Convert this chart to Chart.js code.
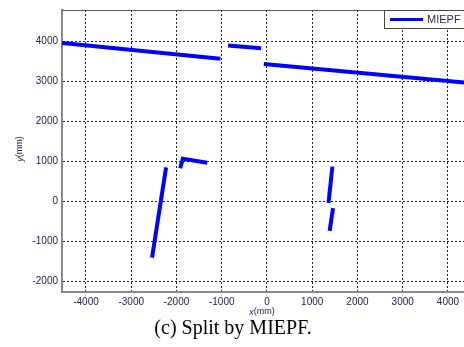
<!DOCTYPE html>
<html>
<head>
<meta charset="utf-8">
<script src="https://cdn.jsdelivr.net/npm/chart.js@4"></script>
<style>
  html, body { margin: 0; padding: 0; background: #fff; }
  #wrap { position: relative; width: 464px; height: 347px; overflow: hidden; }
</style>
</head>
<body>
<div id="wrap"><canvas id="chart" width="464" height="347"></canvas></div>
<script>
// segments of the MIEPF split result (mm)
const segAx = [-4530, -1030];       const segAy = [3970, 3575];
const segBx = [-860, -130];         const segBy = [3905, 3835];
const segCx = [-70, 4360];          const segCy = [3440, 2975];
const segDx = [-2230, -2540];       const segDy = [850, -1410];
const segEx = [-1920, -1860, -1320]; const segEy = [830, 1065, 965];
const segFx = [1445, 1360];         const segFy = [870, -40];
const segGx = [1460, 1385];         const segGy = [-170, -740];

const xTicks = [-4000, -3000, -2000, -1000, 0, 1000, 2000, 3000, 4000];
const yTicks = [-2000, -1000, 0, 1000, 2000, 3000, 4000];

const seriesName = 'MIEPF';
const caption = '(c) Split by MIEPF.';

const segments = [
  [segAx, segAy], [segBx, segBy], [segCx, segCy], [segDx, segDy],
  [segEx, segEy], [segFx, segFy], [segGx, segGy]
];

const datasets = segments.map(([xs, ys]) => ({
  label: seriesName,
  data: xs.map((x, i) => ({ x: x, y: ys[i] })),
  showLine: true,
  borderColor: '#0000ff',
  backgroundColor: '#0000ff',
  borderWidth: 4,
  pointRadius: 0,
  tension: 0
}));

const tickColor = '#24244f';

// frame top line, axis titles, legend box and caption
const extras = {
  id: 'extras',
  afterDraw(chart) {
    const ctx = chart.ctx;
    const a = chart.chartArea;
    ctx.save();
    // top border of the axes
    ctx.strokeStyle = '#555';
    ctx.lineWidth = 1;
    ctx.beginPath();
    ctx.moveTo(a.left, a.top + 0.5);
    ctx.lineTo(a.right, a.top + 0.5);
    ctx.stroke();

    // legend
    const lx = 384, ly = a.top;
    ctx.fillStyle = '#fff';
    ctx.fillRect(lx, ly, 90, 19);
    ctx.strokeStyle = '#444';
    ctx.strokeRect(lx + 0.5, ly + 0.5, 90, 18);
    ctx.strokeStyle = '#0000ff';
    ctx.lineWidth = 3;
    ctx.beginPath();
    ctx.moveTo(390, ly + 9.5);
    ctx.lineTo(423, ly + 9.5);
    ctx.stroke();
    ctx.fillStyle = '#2a2a55';
    ctx.font = '11px "Liberation Sans", Arial, sans-serif';
    ctx.textBaseline = 'middle';
    ctx.textAlign = 'left';
    ctx.fillText(seriesName, 427, ly + 10);

    // axis titles: italic letter + (mm)
    const drawTitle = (letter, cx, cy, rot) => {
      ctx.save();
      ctx.translate(cx, cy);
      ctx.rotate(rot);
      ctx.font = 'italic 9px "Liberation Sans", Arial, sans-serif';
      const w1 = ctx.measureText(letter).width;
      ctx.font = '9px "Liberation Sans", Arial, sans-serif';
      const w2 = ctx.measureText('(mm)').width;
      const start = -(w1 + w2) / 2;
      ctx.textAlign = 'left';
      ctx.textBaseline = 'middle';
      ctx.fillStyle = tickColor;
      ctx.font = 'italic 9px "Liberation Sans", Arial, sans-serif';
      ctx.fillText(letter, start, 0);
      ctx.font = '9px "Liberation Sans", Arial, sans-serif';
      ctx.fillText('(mm)', start + w1, 0);
      ctx.restore();
    };
    drawTitle('x', 262, 312, 0);
    drawTitle('y', 20, 149, -Math.PI / 2);

    // caption
    ctx.fillStyle = '#000';
    ctx.font = '20px "Liberation Serif", "Times New Roman", serif';
    ctx.textAlign = 'center';
    ctx.textBaseline = 'alphabetic';
    ctx.fillText(caption, 233, 334);
    ctx.restore();
  }
};

new Chart(document.getElementById('chart'), {
  type: 'scatter',
  data: { datasets: datasets },
  options: {
    responsive: false,
    animation: false,
    layout: { padding: { top: 7, left: 0, right: 0, bottom: 0 } },
    plugins: { legend: { display: false }, tooltip: { enabled: false } },
    scales: {
      x: {
        type: 'linear',
        min: -4530,
        max: 4354,
        afterFit: s => { s.height = 55; },
        afterBuildTicks: s => { s.ticks = xTicks.map(v => ({ value: v })); },
        ticks: {
          color: tickColor,
          font: { family: '"Liberation Sans", Arial, sans-serif', size: 10 },
          padding: 4,
          maxRotation: 0,
          callback: v => String(v)
        },
        grid: { color: '#222', lineWidth: 1, drawTicks: false },
        border: { color: '#888', width: 2, dash: [2, 2] }
      },
      y: {
        type: 'linear',
        min: -2272,
        max: 4794,
        afterFit: s => { s.width = 62; },
        afterBuildTicks: s => { s.ticks = yTicks.map(v => ({ value: v })); },
        ticks: {
          color: tickColor,
          font: { family: '"Liberation Sans", Arial, sans-serif', size: 10 },
          padding: 4,
          callback: v => String(v)
        },
        grid: { color: '#222', lineWidth: 1, drawTicks: false },
        border: { color: '#888', width: 2, dash: [2, 2] }
      }
    }
  },
  plugins: [extras]
});
</script>
</body>
</html>
